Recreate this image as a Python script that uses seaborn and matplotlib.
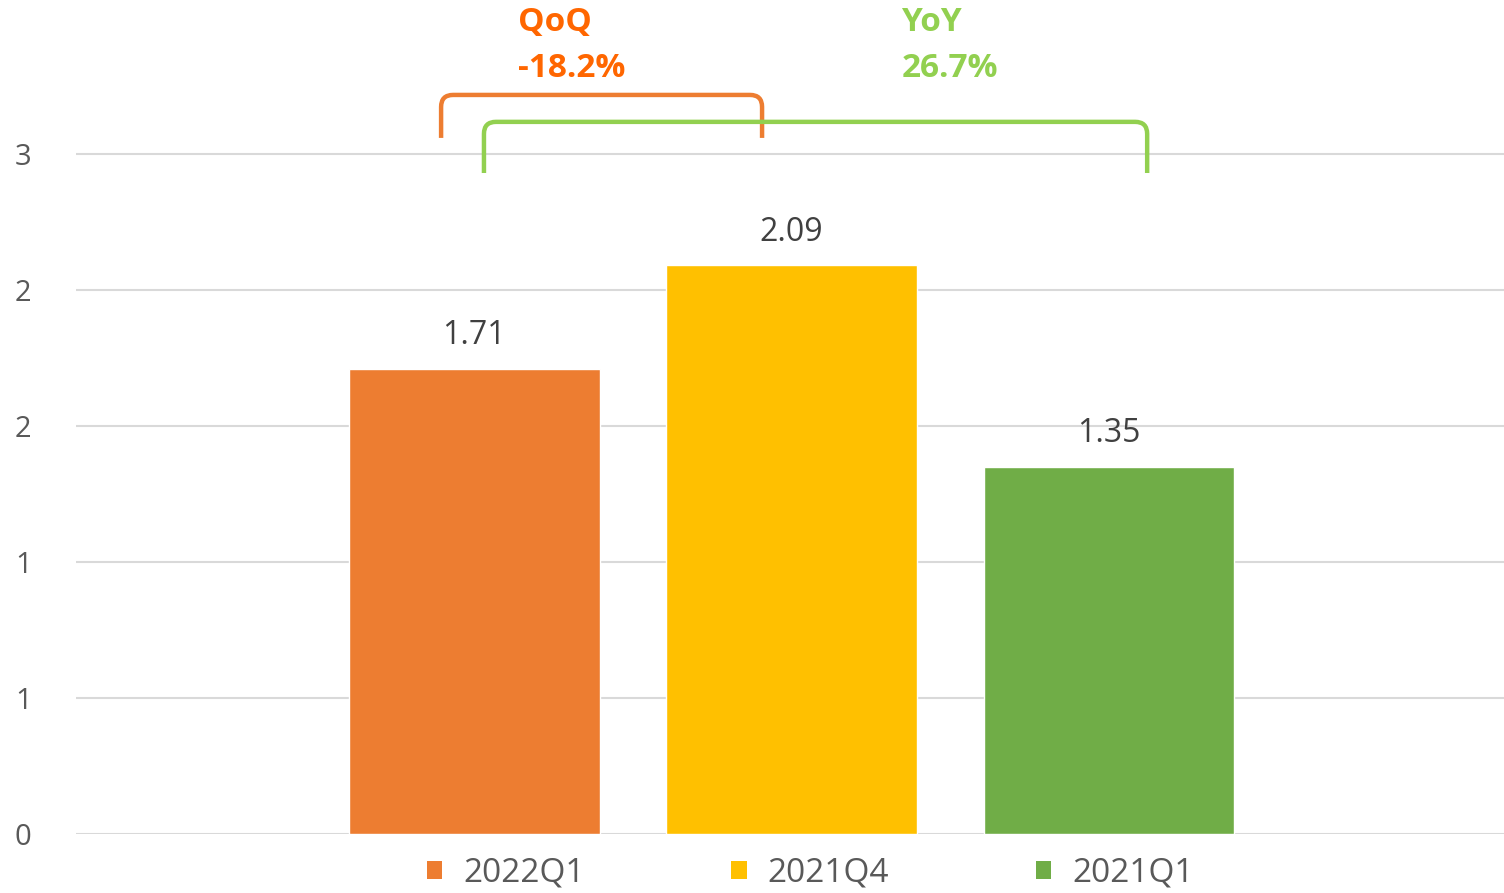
import numpy as np
import pandas as pd
import matplotlib
matplotlib.use("Agg")
import matplotlib.pyplot as plt
from matplotlib.path import Path
from matplotlib.patches import PathPatch, Patch
import seaborn as sns

# ---- data ----
periods = ["2022Q1", "2021Q4", "2021Q1"]
values = [1.71, 2.09, 1.35]
bar_colors = ["#ED7D31", "#FFC000", "#70AD47"]
ytick_values = [0, 0.5, 1.0, 1.5, 2.0, 2.5]
ytick_labels = ["0", "1", "1", "2", "2", "3"]
qoq_label = ["QoQ", "-18.2%"]
yoy_label = ["YoY", "26.7%"]

sns.set_theme(style="white")
plt.rcParams["font.family"] = ["Open Sans", "DejaVu Sans"]

fig = plt.figure(figsize=(15.04, 8.93), dpi=100)
ax = fig.add_axes([76 / 1504, 59 / 893, 1 - 76 / 1504, 1 - 59 / 893])

df = pd.DataFrame({"period": periods, "value": values})
sns.barplot(data=df, x="period", y="value", hue="period", order=periods,
            hue_order=periods, palette=bar_colors, width=0.79, legend=False,
            saturation=1, ax=ax, zorder=3)

ax.set_xlim(-1.254, 3.244)
ax.set_ylim(0, 3.066)
ax.set_yticks(ytick_values)
ax.set_yticklabels(ytick_labels)
ax.tick_params(axis="y", length=0, pad=32, labelsize=21, labelcolor="#595959")
ax.set_xticks([])
ax.set_xlabel("")
ax.set_ylabel("")
for s in ax.spines.values():
    s.set_visible(False)
ax.yaxis.grid(True, color="#D9D9D9", linewidth=1.5, zorder=0)
ax.set_axisbelow(True)

for cont in ax.containers:
    ax.bar_label(cont, fmt="%.2f", padding=12, fontsize=23, color="#404040")

# ---- brackets ----
xpx = 317.5  # pixels per x unit
ypx = 272.0  # pixels per y unit


def bracket(x0, x1, ytop, ybot, color, r=12):
    rx, ry = r / xpx, r / ypx
    verts = [(x0, ybot), (x0, ytop - ry), (x0, ytop), (x0 + rx, ytop),
             (x1 - rx, ytop), (x1, ytop), (x1, ytop - ry), (x1, ybot)]
    codes = [Path.MOVETO, Path.LINETO, Path.CURVE3, Path.CURVE3,
             Path.LINETO, Path.CURVE3, Path.CURVE3, Path.LINETO]
    p = PathPatch(Path(verts, codes), fill=False, edgecolor=color,
                  linewidth=3.2, capstyle="butt", clip_on=False, zorder=5)
    ax.add_patch(p)


centers = [p.get_x() + p.get_width() / 2 for p in ax.patches[:3]]
bracket(centers[0] - 0.104, centers[1] - 0.093, 2.717, 2.559, "#ED7D31")
bracket(centers[0] + 0.031, centers[2] + 0.12, 2.618, 2.43, "#92D050")

for lbl, x0, col in [(qoq_label, 0.142, "#FF6600"), (yoy_label, 1.351, "#92D050")]:
    ax.text(centers[0] + x0 - 0.005, 2.985, lbl[0], color=col, fontsize=24,
            fontweight="bold", ha="left", va="center")
    ax.text(centers[0] + x0 - 0.005, 2.816, lbl[1], color=col, fontsize=24,
            fontweight="bold", ha="left", va="center")

handles = [Patch(facecolor=c, edgecolor="none") for c in bar_colors]
fig.legend(handles, periods, loc="center", bbox_to_anchor=(810 / 1504, 0.022),
           ncol=3, frameon=False, fontsize=24, labelcolor="#595959",
           handlelength=0.47, handleheight=0.47, handletextpad=0.62,
           columnspacing=4.4, borderpad=0)

fig.savefig("out.png", dpi=100)
